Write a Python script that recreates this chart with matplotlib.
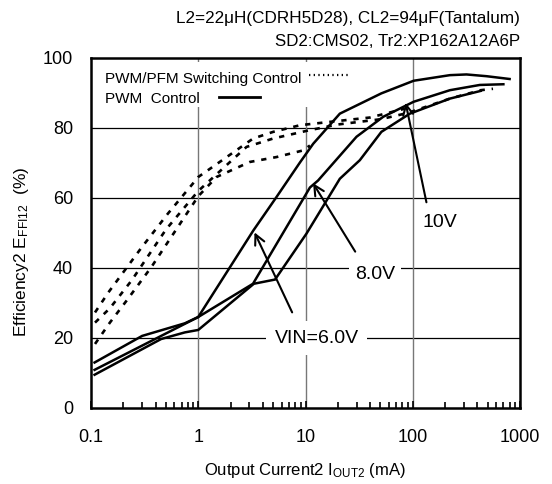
import matplotlib
matplotlib.use("Agg")
import matplotlib.pyplot as plt
from matplotlib.patches import Rectangle
from matplotlib import font_manager
import numpy as np

plt.rcParams['font.family'] = ['Liberation Sans', 'DejaVu Sans']
plt.rcParams['mathtext.fontset'] = 'custom'
plt.rcParams['mathtext.rm'] = 'Liberation Sans'
plt.rcParams['mathtext.it'] = 'Liberation Sans'

# ---- data ----
# PWM control (solid)
pwm6_x = [0.108, 0.3, 0.75, 1.0, 3.26, 5.37, 8.9, 11.8, 20.9, 51, 102, 222, 317, 488, 800]
pwm6_y = [13.0, 20.6, 24.2, 26.0, 50.7, 60.3, 70.2, 75.5, 84.1, 89.9, 93.5, 95.1, 95.3, 94.8, 94.0]
pwm8_x = [0.108, 1.0, 3.24, 11.0, 13.1, 29.9, 53, 102, 222, 422, 700]
pwm8_y = [10.9, 26.0, 35.5, 63.0, 65.0, 77.5, 83.2, 87.5, 90.8, 92.3, 92.5]
pwm10_x = [0.108, 0.45, 0.75, 1.0, 3.3, 5.2, 10.2, 20.9, 32.1, 51, 94, 222, 430]
pwm10_y = [9.5, 19.7, 21.6, 22.3, 35.5, 36.7, 49.8, 65.5, 70.8, 78.9, 84.1, 88.4, 90.6]

# PWM/PFM switching control (dashed)
pfm8_x = [0.109, 0.145, 0.207, 0.297, 0.52, 0.89, 1.0, 3.25, 5.0, 8.9, 20, 40, 84]
pfm8_y = [27.3, 33.0, 39.4, 45.9, 55.5, 64.1, 66.0, 77.0, 78.9, 80.8, 82.0, 83.0, 85.5]
pfm10_x = [0.109, 0.15, 0.24, 0.5, 1.0, 2.82, 5.0, 11, 20, 50, 90, 222, 430, 560]
pfm10_y = [24.4, 28.5, 36.5, 51.0, 62.0, 74.6, 77.0, 79.4, 81.0, 82.5, 84.3, 88.4, 90.8, 91.2]
pfm6_x = [0.109, 0.150, 0.215, 0.368, 0.508, 1.0, 1.48, 3.03, 5.37, 9.5, 11]
pfm6_y = [18.3, 24.4, 30.7, 40.4, 46.9, 60.5, 66.0, 70.3, 71.7, 73.6, 75.0]

x_ticks = [0.1, 1, 10, 100, 1000]
x_ticklabels = ['0.1', '1', '10', '100', '1000']
y_ticks = [0, 20, 40, 60, 80, 100]

# ---- figure ----
W, H = 552, 484
fig = plt.figure(figsize=(W / 100, H / 100), dpi=100)
ax = fig.add_axes([91 / W, 1 - 408 / H, 429 / W, 350 / H])
ax.set_xscale('log')
ax.set_xlim(0.1, 1000)
ax.set_ylim(0, 100)

for g in [20, 40, 60, 80]:
    ax.axhline(g, color='black', lw=0.9, zorder=1)
for g in [1, 10, 100]:
    ax.axvline(g, color='#777777', lw=1.0, zorder=1)

lw = 1.8
for xs, ys in [(pwm6_x, pwm6_y), (pwm8_x, pwm8_y), (pwm10_x, pwm10_y)]:
    ax.plot(xs, ys, color='black', lw=lw, zorder=3, solid_joinstyle='miter')
for xs, ys in [(pfm8_x, pfm8_y), (pfm10_x, pfm10_y), (pfm6_x, pfm6_y)]:
    ax.plot(xs, ys, color='black', lw=1.9, zorder=3, linestyle=(0, (2.0, 2.6)))

# legend (white box + samples)
ax.add_patch(Rectangle((0.009, 0.86), 0.606, 0.128, transform=ax.transAxes,
                       facecolor='white', edgecolor='none', zorder=2))
ax.text(0.033, 0.9395, 'PWM/PFM Switching Control', transform=ax.transAxes,
        fontsize=11, va='center', ha='left', zorder=4)
ax.text(0.033, 0.883, 'PWM  Control', transform=ax.transAxes,
        fontsize=11, va='center', ha='left', zorder=4)
ax.plot([0.508, 0.6], [0.951, 0.951], transform=ax.transAxes, color='black',
        lw=1.6, linestyle=(0, (0.6, 1.5)), zorder=4)
ax.plot([0.298, 0.394], [0.889, 0.889], transform=ax.transAxes, color='black',
        lw=2.0, zorder=4)

# annotations
arrow = dict(arrowstyle='->', lw=1.5, color='black', mutation_scale=18)
ax.annotate('', xy=(84.7, 88.0), xytext=(135.8, 58.0), arrowprops=arrow, zorder=5)
ax.annotate('', xy=(11.4, 64.9), xytext=(30.0, 44.0), arrowprops=arrow, zorder=5)
ax.annotate('', xy=(3.26, 50.9), xytext=(7.7, 26.6), arrowprops=arrow, zorder=5)
bb = dict(facecolor='white', edgecolor='none', pad=4)
ax.text(179.5, 52.9, '10V', fontsize=14, ha='center', va='center', zorder=6)
ax.text(44.5, 38.0, '8.0V', fontsize=14, ha='center', va='center', zorder=6, bbox=bb)
ax.text(12.7, 19.9, 'VIN=6.0V', fontsize=14, ha='center', va='center', zorder=6,
        bbox=dict(facecolor='white', edgecolor='none', pad=6))

# axes styling
for s in ax.spines.values():
    s.set_linewidth(1.8)
    s.set_zorder(7)
ax.set_xticks(x_ticks)
ax.set_xticklabels(x_ticklabels)
ax.set_yticks(y_ticks)
ax.set_yticklabels([str(v) for v in y_ticks])
ax.tick_params(axis='x', which='major', direction='in', length=5, width=1.2,
               labelsize=13, pad=15, top=False)
ax.tick_params(axis='x', which='minor', direction='in', length=4, width=1.2, top=False)
ax.tick_params(axis='y', which='both', length=0, labelsize=13, pad=13)

fig.text(22 / W, 1 - 252 / H, 'Efficiency2 E$\\mathregular{_{FFI12}}$  (%)', rotation=90,
         fontsize=12.5, ha='center', va='center')
fig.text(305 / W, 1 - 471 / H, 'Output Current2 I$\\mathregular{_{OUT2}}$ (mA)',
         fontsize=12, ha='center', va='center')

narrow = [f.name for f in font_manager.fontManager.ttflist if 'Narrow' in f.name]
t1_family = ['Liberation Sans Narrow', 'Liberation Sans'] if narrow else ['Liberation Sans']
t1_size = 12.3 if narrow else 10.4
fig.text(520 / W, 1 - 19 / H, 'L2=22μH(CDRH5D28), CL2=94μF(Tantalum)', fontsize=t1_size,
         family=t1_family, ha='right', va='center')
fig.text(520 / W, 1 - 42 / H, 'SD2:CMS02, Tr2:XP162A12A6P', fontsize=12.2,
         ha='right', va='center')

fig.savefig('out.png', dpi=100)
